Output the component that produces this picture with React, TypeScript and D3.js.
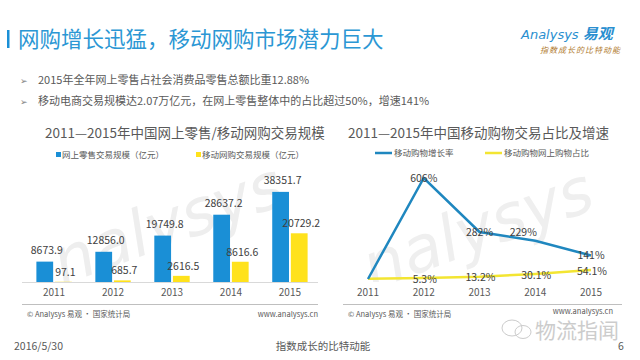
import React from "react";
import * as d3 from "d3";

const years = ["2011", "2012", "2013", "2014", "2015"];
const onlineRetail = [8673.9, 12856.0, 19749.8, 28637.2, 38351.7];
const mobileRetail = [97.1, 685.7, 2616.5, 8616.6, 20729.2];
const growthRate = [0, 606, 282, 229, 141];
const mobileShare = [1.1, 5.3, 13.2, 30.1, 54.1];
const growthLabels = ["", "606%", "282%", "229%", "141%"];
const shareLabels = ["", "5.3%", "13.2%", "30.1%", "54.1%"];
const barSeries = ["网上零售交易规模（亿元）", "移动网购交易规模（亿元）"];
const lineSeries = ["移动购物增长率", "移动购物网上购物占比"];
const bullets = [
  "2015年全年网上零售占社会消费品零售总额比重12.88%",
  "移动电商交易规模达2.07万亿元，在网上零售整体中的占比超过50%，增速141%",
];

const FONT = "'Noto Sans CJK SC', 'Noto Sans', sans-serif";
const GRAY = "#595959";
const BLUE = "#1a8fd6";
const YELLOW = "#ffe21c";
const LINE_BLUE = "#1f87bf";
const LINE_YELLOW = "#f3e532";

export default function App() {
  // Bar chart scales
  const x0 = d3.scaleBand<string>().domain(years).range([24.6, 319.4]).paddingInner(0.4).paddingOuter(0.2);
  const x1 = d3.scaleBand<number>().domain([0, 1]).range([0, x0.bandwidth()]).paddingInner(0.1);
  const yb = d3.scaleLinear().domain([0, 40000]).range([282, 188]);

  // Line chart scales
  const xl = d3.scalePoint<string>().domain(years).range([368, 591]);
  const yl = d3.scaleLinear().domain([0, 606]).range([279, 178]);
  const lineGen = d3
    .line<number>()
    .x((_, i) => xl(years[i]) as number)
    .y((d) => yl(d));

  return (
    <svg width={640} height={360} style={{ position: "absolute", left: 0, top: 0, background: "#fff" }} fontFamily={FONT}>
      <defs>
        <clipPath id="clipL"><rect x={20} y={165} width={300} height={117} /></clipPath>
        <clipPath id="clipR"><rect x={340} y={165} width={285} height={117} /></clipPath>
      </defs>
      <rect width={640} height={360} fill="#ffffff" />
      {/* Header */}
      <rect x={7} y={30} width={2.5} height={18} fill="#1a8fd6" />
      <text x={18} y={47} fontSize={21.5} fill="#2b97d4">网购增长迅猛，移动网购市场潜力巨大</text>
      <text x={521} y={39} fontSize={14} fill="#2a8fd0" fontStyle="italic" fontFamily="'DejaVu Sans', sans-serif">
        <tspan fontSize={13}>Analysys</tspan>
        <tspan dx={4} fontWeight="bold" fontSize={15} fontFamily={FONT}>易观</tspan>
      </text>
      <text x={540} y={53} fontSize={8} fill="#b07a2e" fontStyle="italic" letterSpacing={1}>指数成长的比特动能</text>

      {/* Bullets */}
      {bullets.map((b, i) => (
        <g key={i}>
          <text x={20} y={84 + i * 21} fontSize={9} fill="#7f7f7f">➢</text>
          <text x={38} y={84 + i * 21} fontSize={11} fill={GRAY}>{b}</text>
        </g>
      ))}

      {/* Watermarks */}
      <g clipPath="url(#clipL)">
        <text x={170} y={245} fontSize={64} fill="#eeeeee" fontStyle="italic" textAnchor="middle" transform="rotate(-20 170 230)" fontFamily="'DejaVu Sans', sans-serif">nalysys</text>
      </g>
      <g clipPath="url(#clipR)">
        <text x={480} y={250} fontSize={64} fill="#efefef" fontStyle="italic" textAnchor="middle" transform="rotate(-20 480 235)" fontFamily="'DejaVu Sans', sans-serif">nalysys</text>
      </g>

      {/* Left chart */}
      <text x={45} y={138} fontSize={13.5} fill={GRAY}>2011—2015年中国网上零售/移动网购交易规模</text>
      <rect x={56} y={152} width={5} height={5} fill={BLUE} />
      <text x={62} y={158} fontSize={8.5} fill={GRAY}>{barSeries[0]}</text>
      <rect x={196} y={152} width={5} height={5} fill={YELLOW} />
      <text x={202} y={158} fontSize={8.5} fill={GRAY}>{barSeries[1]}</text>
      {years.map((yr, i) => {
        const bx = x0(yr) as number;
        const vals = [onlineRetail[i], mobileRetail[i]];
        return (
          <g key={yr}>
            {vals.map((v, s) => {
              const xx = bx + (x1(s) as number);
              const w = x1.bandwidth();
              return (
                <g key={s}>
                  <rect x={xx} y={yb(v)} width={w} height={Math.max(0.6, 282 - yb(v))} fill={s === 0 ? BLUE : YELLOW} />
                  <text x={xx + w / 2 + 2} y={yb(v) - (s === 0 ? 8 : 6)} fontSize={10.5} fill="#404040" textAnchor="middle">
                    {v.toFixed(1)}
                  </text>
                </g>
              );
            })}
            <text x={bx + x0.bandwidth() / 2} y={296} fontSize={10} fill={GRAY} textAnchor="middle">{yr}</text>
          </g>
        );
      })}
      <line x1={22} x2={318} y1={282.5} y2={282.5} stroke="#d9d9d9" strokeWidth={1} />
      <line x1={22} x2={318} y1={304.5} y2={304.5} stroke="#bfbfbf" strokeWidth={1} />
      <text x={27} y={317} fontSize={7.5} fill={GRAY}>© Analysys 易观 · 国家统计局</text>
      <text x={318} y={317} fontSize={7.5} fill={GRAY} textAnchor="end">www.analysys.cn</text>

      {/* Right chart */}
      <text x={348} y={138} fontSize={13.5} fill={GRAY}>2011—2015年中国移动购物交易占比及增速</text>
      <line x1={375} x2={392} y1={153} y2={153} stroke={LINE_BLUE} strokeWidth={2.5} />
      <text x={394} y={156} fontSize={8.5} fill={GRAY}>{lineSeries[0]}</text>
      <line x1={485} x2={502} y1={153} y2={153} stroke={LINE_YELLOW} strokeWidth={2.5} />
      <text x={504} y={156} fontSize={8.5} fill={GRAY}>{lineSeries[1]}</text>
      <path d={lineGen(mobileShare) || ""} fill="none" stroke={LINE_YELLOW} strokeWidth={2.5} />
      <path d={lineGen(growthRate) || ""} fill="none" stroke={LINE_BLUE} strokeWidth={2.5} />
      {years.map((yr, i) => {
        const px = xl(yr) as number;
        const special = i === 3;
        return (
          <g key={yr}>
            {growthLabels[i] && (
              <text
                x={px + (special ? -12 : 0)}
                y={yl(growthRate[i]) + (special ? -9 : 0)}
                dy="0.35em"
                fontSize={10.5}
                fill="#404040"
                textAnchor="middle"
              >
                {growthLabels[i]}
              </text>
            )}
            {shareLabels[i] && (
              <text x={px + 1} y={yl(mobileShare[i]) + 1} dy="0.35em" fontSize={10.5} fill="#404040" textAnchor="middle">
                {shareLabels[i]}
              </text>
            )}
            <text x={px} y={296} fontSize={10} fill={GRAY} textAnchor="middle">{yr}</text>
          </g>
        );
      })}
      <line x1={343} x2={622} y1={304.5} y2={304.5} stroke="#bfbfbf" strokeWidth={1} />
      <text x={348} y={317} fontSize={7.5} fill={GRAY}>© Analysys 易观 · 国家统计局</text>
      <text x={613} y={314} fontSize={7.5} fill={GRAY} textAnchor="end">www.analysys.cn</text>

      {/* WeChat watermark */}
      <g opacity={0.5}>
        <ellipse cx={512} cy={328} rx={10} ry={8} fill="none" stroke="#9a9a9a" strokeWidth={1} />
        <ellipse cx={523} cy={332} rx={8} ry={6.5} fill="none" stroke="#9a9a9a" strokeWidth={1} />
        <text x={535} y={338} fontSize={21} fill="#9a9a9a">物流指闻</text>
      </g>

      {/* Footer */}
      <text x={14} y={350} fontSize={10.5} fill={GRAY}>2016/5/30</text>
      <text x={323} y={350} fontSize={10.5} fill={GRAY} textAnchor="middle">指数成长的比特动能</text>
      <text x={621} y={350} fontSize={10.5} fill={GRAY} textAnchor="middle">6</text>
    </svg>
  );
}
